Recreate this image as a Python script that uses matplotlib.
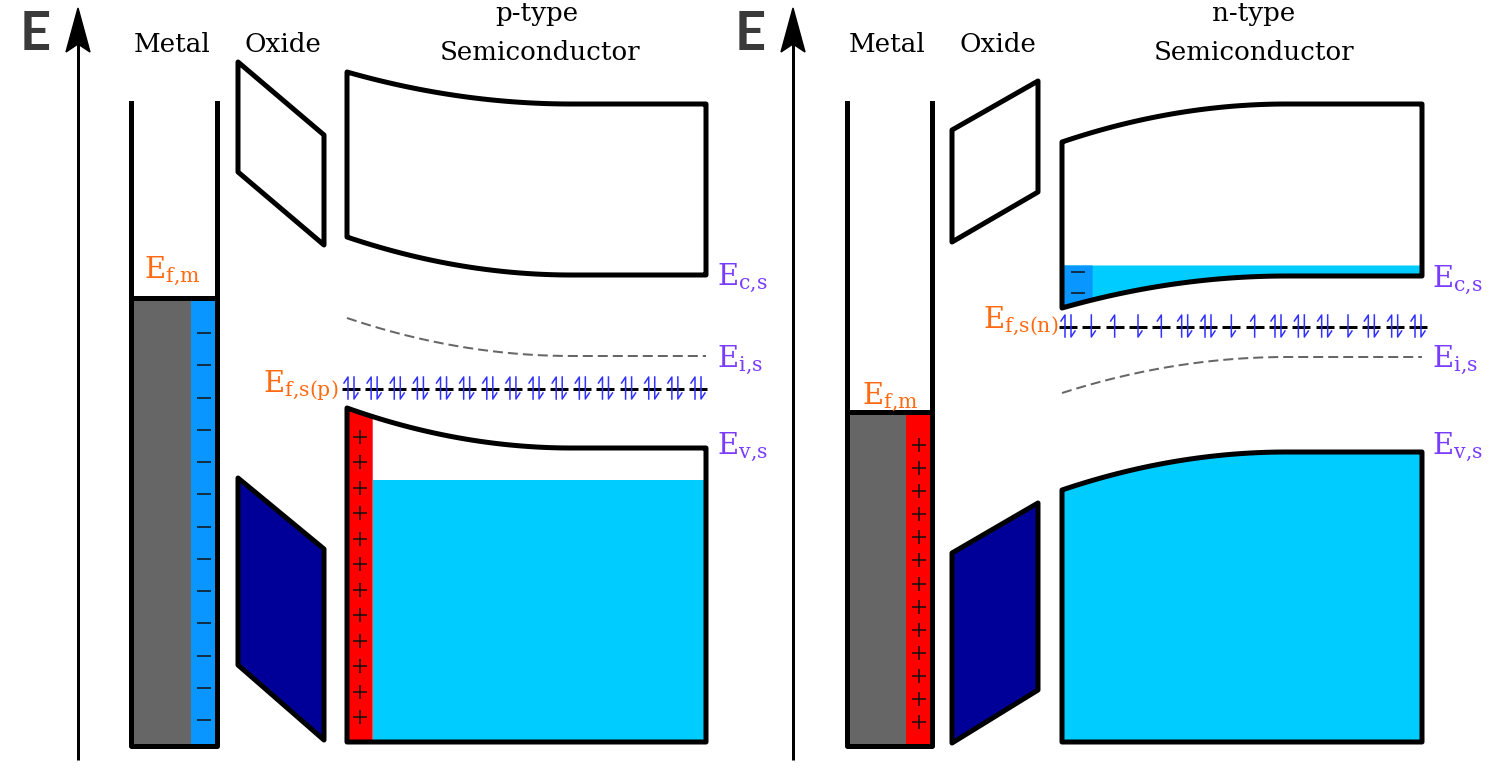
import numpy as np
import matplotlib.pyplot as plt
from matplotlib.patches import Polygon

plt.rcParams['mathtext.fontset'] = 'dejavuserif'

# --- geometry of the two band diagrams (pixel units, y grows downward) ---
W, H = 1490, 772
LW = 5 * 0.72          # outline width in points
BEND_W = 225           # width of the band-bending region

# p-type panel (left)
p_axis_x = 78
p_metal = (131, 191, 217)            # left edge, charge strip start, right edge
p_metal_fermi = 298
p_oxide_top = [(238, 62), (324, 135), (324, 245), (238, 172)]
p_oxide_bot = [(238, 478), (324, 549), (324, 740), (238, 665)]
p_semi = (347, 706)
p_cb_top = (104, -32)                 # flat level, bending at the interface
p_cb_bot = (275, -38)
p_ei = (356, -38)
p_vb_top = (448, -40)
p_fermi = 389
p_hole_level = 480                    # top of the filled valence band
p_strip = 373
p_spin = ['P'] * 16

# n-type panel (right)
n_axis_x = 793
n_metal = (847, 906, 932)
n_metal_fermi = 412
n_oxide_top = [(952, 130), (1038, 81), (1038, 192), (952, 242)]
n_oxide_bot = [(952, 553), (1038, 503), (1038, 690), (952, 743)]
n_semi = (1062, 1422)
n_cb_top = (104, 38)
n_cb_bot = (276, 32)
n_ei = (357, 36)
n_vb_top = (452, 38)
n_fermi = 327
n_elec_level = 265
n_strip = 1093
n_spin = ['P', 'D', 'U', 'D', 'U', 'P', 'P', 'D', 'U', 'P', 'P', 'P', 'D', 'P', 'P', 'P']

bottom = 742
metal_top, metal_bot = 103, 746

# charge markers
p_metal_minus_y = np.linspace(333, 720, 13)
p_semi_plus_y = np.linspace(437, 717, 12)
n_metal_plus_y = np.linspace(445, 722, 13)
n_semi_minus_y = [272, 293]

ORANGE = '#ff6a12'
PURPLE = '#7a3cff'
ARROW = '#3030ff'
CYAN = '#00ccff'
BLUE = '#0a96ff'
RED = '#ff0000'
GRAY = '#666666'
NAVY = '#000099'


def bend(x, x0, level):
    flat, d = level
    t = np.clip((x - x0) / BEND_W, 0, 1)
    return flat + d * (1 - t) ** 2


fig = plt.figure(figsize=(W / 100, H / 100), dpi=100)
ax = fig.add_axes([0, 0, 1, 1])
ax.set_xlim(0, W)
ax.set_ylim(H, 0)
ax.axis('off')

serif = dict(family='DejaVu Serif', fontsize=18.8, color='black', ha='center', va='center')


def energy_axis(x):
    ax.plot([x, x], [760, 40], color='black', lw=3 * 0.72, solid_capstyle='butt', zorder=3)
    head = Polygon([(x, 8), (x - 12, 52), (x, 44), (x + 12, 52)], closed=True,
                   facecolor='black', edgecolor='black', lw=1, zorder=4)
    ax.add_patch(head)
    ax.text(x - 43, 35, 'E', fontsize=39, family='Lato', fontweight='bold',
            color='#3a3a3a', ha='center', va='center')


def metal(m, fermi, strip_color, sign, sign_y):
    x0, xs, x1 = m
    ax.fill_between([x0, xs], fermi, metal_bot, color=GRAY, lw=0, zorder=1)
    ax.fill_between([xs, x1], fermi, metal_bot, color=strip_color, lw=0, zorder=1)
    ax.plot([x0, x0, x1, x1], [metal_top, metal_bot, metal_bot, metal_top],
            color='black', lw=LW, solid_joinstyle='round', zorder=3)
    ax.plot([x0, x1], [fermi, fermi], color='black', lw=LW, solid_capstyle='butt', zorder=3)
    ax.plot([(xs + x1) / 2] * len(sign_y), sign_y, ls='none', marker=sign,
            ms=10, mew=1.1, color='#111111', zorder=2)


def oxide(top, bot):
    ax.add_patch(Polygon(top, closed=True, facecolor='white', edgecolor='black',
                         lw=LW, joinstyle='round', zorder=3))
    ax.add_patch(Polygon(bot, closed=True, facecolor=NAVY, edgecolor='black',
                         lw=LW, joinstyle='round', zorder=3))


def harpoon(x, y, up):
    if up:
        ax.plot([x, x, x - 4], [y + 10, y - 12, y - 6], color=ARROW, lw=1.1, zorder=5)
    else:
        ax.plot([x, x, x + 4], [y - 12, y + 10, y + 4], color=ARROW, lw=1.1, zorder=5)


def fermi_level(xs, y, pattern):
    for x, p in zip(xs, pattern):
        ax.plot([x - 9, x + 9], [y, y], color='black', lw=3 * 0.72,
                solid_capstyle='butt', zorder=4)
        if p == 'P':
            harpoon(x - 3, y, True)
            harpoon(x + 3, y, False)
        else:
            harpoon(x, y, p == 'U')


def semiconductor(s, cbt, cbb, ei, vbt):
    x0, x1 = s
    xx = np.linspace(x0, x1, 300)
    top = bend(xx, x0, cbt)
    bot = bend(xx, x0, cbb)
    cb = np.column_stack([np.r_[xx, xx[::-1]], np.r_[top, bot[::-1]]])
    ax.add_patch(Polygon(cb, closed=True, facecolor='none', edgecolor='black',
                         lw=LW, joinstyle='round', zorder=3))
    vb = bend(xx, x0, vbt)
    vpoly = np.column_stack([np.r_[xx, x1, x0], np.r_[vb, bottom, bottom]])
    ax.add_patch(Polygon(vpoly, closed=True, facecolor='none', edgecolor='black',
                         lw=LW, joinstyle='round', zorder=3))
    ax.plot(xx, bend(xx, x0, ei), color='#666666', lw=2 * 0.72,
            dashes=(5, 2.5), zorder=2)
    return xx, top, bot, vb


# ---------------- left: p-type ----------------
energy_axis(p_axis_x)
metal(p_metal, p_metal_fermi, BLUE, '_', p_metal_minus_y)
oxide(p_oxide_top, p_oxide_bot)
xx, top, bot, vb = semiconductor(p_semi, p_cb_top, p_cb_bot, p_ei, p_vb_top)
m = xx <= p_strip
ax.fill_between(xx[m], vb[m], bottom, color=RED, lw=0, zorder=1)
ax.fill_between([p_strip, p_semi[1]], p_hole_level, bottom, color=CYAN, lw=0, zorder=1)
ax.plot([(p_semi[0] + p_strip) / 2] * len(p_semi_plus_y), p_semi_plus_y, ls='none',
        marker='+', ms=10.5, mew=1.1, color='#111111', zorder=2)
fermi_level(np.linspace(351, 698, len(p_spin)), p_fermi, p_spin)

ax.text(172, 45, 'Metal', **serif)
ax.text(283, 45, 'Oxide', **serif)
ax.text(537, 14, 'p-type', **serif)
ax.text(540, 53, 'Semiconductor', **serif)

lab = dict(fontsize=21, va='baseline')
ax.text(172, 278, r'$\mathrm{E}_{\mathrm{f{,}m}}$', color=ORANGE, ha='center', **lab)
ax.text(338, 392, r'$\mathrm{E}_{\mathrm{f{,}s(p)}}$', color=ORANGE, ha='right', **lab)
ax.text(717, 285, r'$\mathrm{E}_{\mathrm{c{,}s}}$', color=PURPLE, ha='left', **lab)
ax.text(717, 367, r'$\mathrm{E}_{\mathrm{i{,}s}}$', color=PURPLE, ha='left', **lab)
ax.text(717, 454, r'$\mathrm{E}_{\mathrm{v{,}s}}$', color=PURPLE, ha='left', **lab)

# ---------------- right: n-type ----------------
energy_axis(n_axis_x)
metal(n_metal, n_metal_fermi, RED, '+', n_metal_plus_y)
oxide(n_oxide_top, n_oxide_bot)
xx, top, bot, vb = semiconductor(n_semi, n_cb_top, n_cb_bot, n_ei, n_vb_top)
ax.fill_between(xx, n_elec_level, bot, color=CYAN, lw=0, zorder=1)
m = xx <= n_strip
ax.fill_between(xx[m], n_elec_level, bot[m], color=BLUE, lw=0, zorder=1)
ax.fill_between(xx, vb, bottom, color=CYAN, lw=0, zorder=1)
ax.plot([(n_semi[0] + n_strip) / 2] * len(n_semi_minus_y), n_semi_minus_y, ls='none',
        marker='_', ms=10, mew=1.1, color='#111111', zorder=2)
fermi_level(np.linspace(1068, 1418, len(n_spin)), n_fermi, n_spin)

ax.text(887, 45, 'Metal', **serif)
ax.text(998, 45, 'Oxide', **serif)
ax.text(1254, 14, 'n-type', **serif)
ax.text(1254, 53, 'Semiconductor', **serif)

ax.text(890, 404, r'$\mathrm{E}_{\mathrm{f{,}m}}$', color=ORANGE, ha='center', **lab)
ax.text(1058, 328, r'$\mathrm{E}_{\mathrm{f{,}s(n)}}$', color=ORANGE, ha='right', **lab)
ax.text(1432, 287, r'$\mathrm{E}_{\mathrm{c{,}s}}$', color=PURPLE, ha='left', **lab)
ax.text(1432, 367, r'$\mathrm{E}_{\mathrm{i{,}s}}$', color=PURPLE, ha='left', **lab)
ax.text(1432, 454, r'$\mathrm{E}_{\mathrm{v{,}s}}$', color=PURPLE, ha='left', **lab)

fig.savefig('out.png', dpi=100, facecolor='white')
